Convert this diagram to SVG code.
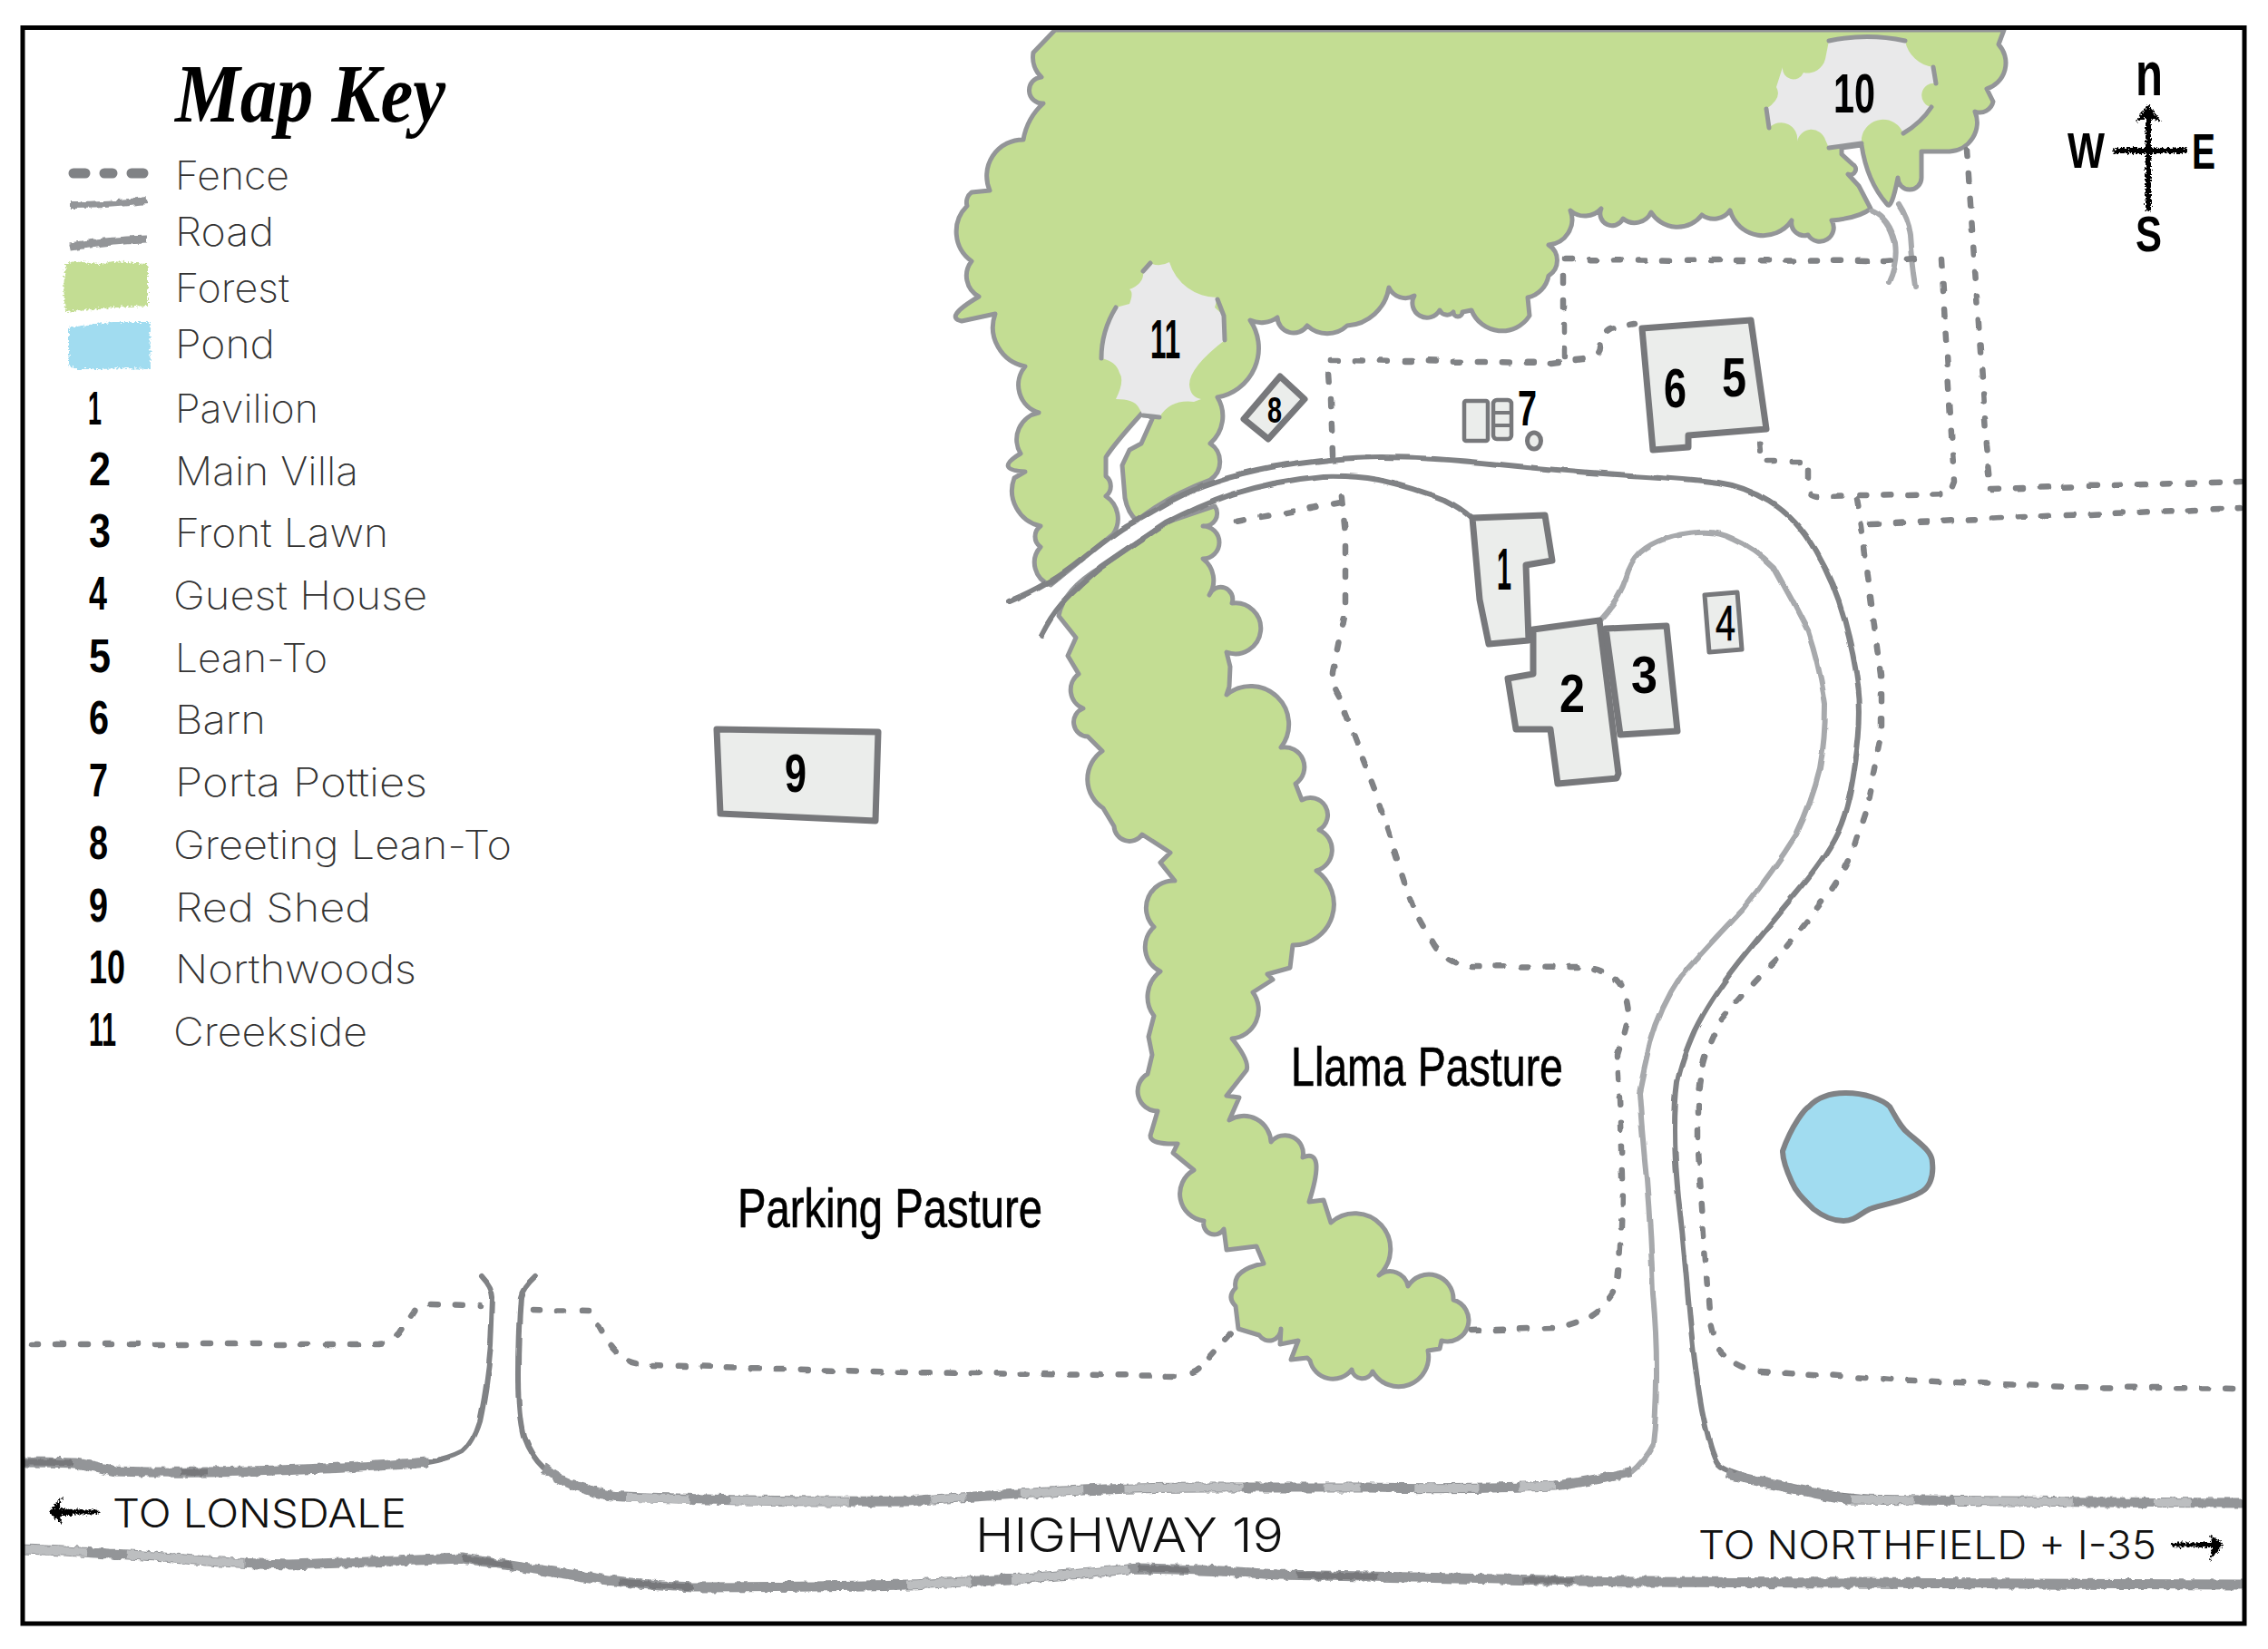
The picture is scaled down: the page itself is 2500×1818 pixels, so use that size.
<svg xmlns="http://www.w3.org/2000/svg" width="2500" height="1818" viewBox="0 0 2500 1818">
<style>
.forest{fill:#c3dd93;stroke:#939598;stroke-width:5;stroke-linejoin:round;stroke-linecap:round}
.clear{fill:#e9e9ea;stroke:none}
.edge{fill:none;stroke:#939598;stroke-width:5;stroke-linecap:round}
.bld{fill:#ebedeb;stroke:#77787b;stroke-width:7;stroke-linejoin:round}
.road{fill:none;stroke:#808285;stroke-width:6;stroke-linecap:round;stroke-linejoin:round}
.roadl{fill:none;stroke:#a7a9ac;stroke-width:6;stroke-linecap:round}
.hw{fill:none;stroke:#939598;stroke-width:11;stroke-linecap:butt}
.hwl{fill:none;stroke:#bcbec0;stroke-width:9;stroke-dasharray:70 45 130 90 40 60}
.hwd{fill:none;stroke:#77787b;stroke-width:7;stroke-dasharray:55 120 90 160}
.fence{fill:none;stroke:#808285;stroke-width:6.500;stroke-linecap:round;stroke-linejoin:round;stroke-dasharray:8 19}
.key{font-family:"Inter","Lato","Liberation Sans",sans-serif;font-weight:200;font-size:43px;fill:#333}
.hand{font-family:"Liberation Sans Narrow","Liberation Sans",sans-serif;font-weight:700;fill:#000}
.thin{font-weight:400;stroke:#000;stroke-width:.7}
.label{font-family:"Inter","Liberation Sans",sans-serif;font-weight:300;fill:#111}
.ink{fill:none;stroke:#000;stroke-linecap:round}
</style>
<defs>
<filter id="wob" filterUnits="userSpaceOnUse" x="0" y="0" width="2500" height="1818" color-interpolation-filters="sRGB"><feTurbulence type="fractalNoise" baseFrequency="0.03" numOctaves="2" seed="4"/><feDisplacementMap in="SourceGraphic" scale="5" xChannelSelector="R" yChannelSelector="G"/></filter>
<filter id="rough" filterUnits="userSpaceOnUse" x="0" y="0" width="2500" height="1818" color-interpolation-filters="sRGB"><feTurbulence type="fractalNoise" baseFrequency="0.12" numOctaves="2" seed="7"/><feDisplacementMap in="SourceGraphic" scale="6" xChannelSelector="R" yChannelSelector="G"/></filter>
<filter id="brush" filterUnits="userSpaceOnUse" x="0" y="0" width="2500" height="1818" color-interpolation-filters="sRGB"><feTurbulence type="fractalNoise" baseFrequency="0.45" numOctaves="2" seed="9"/><feDisplacementMap in="SourceGraphic" scale="7" xChannelSelector="R" yChannelSelector="G"/></filter>
</defs>
<rect width="2500" height="1818" fill="#fff"/>

<g id="forest">
<path id="forest-north" class="forest" d="M1163,33 L1139,58 A30,30 0 0 0 1148,85 A14,14 0 0 0 1150,114 A70,70 0 0 0 1128,154 A40,40 0 0 0 1091,210 L1071,212 A14,14 0 0 0 1066,227 A40,40 0 0 0 1071,288 A26,26 0 0 0 1079,327 Q1040,350 1060,354 L1097,346 A44,44 0 0 0 1130,404 A32,32 0 0 0 1145,455 A30,30 0 0 0 1125,500 Q1095,518 1130,520 L1118,527 A40,40 0 0 0 1147,580 A14,14 0 0 0 1147,603 A26,26 0 0 0 1158,645 L1227,589 A30,30 0 0 0 1219,547 A14,14 0 0 0 1219,525 L1219,504 Q1228,490 1253,462 L1262,452 L1270,462 L1258,489 L1245,496 L1237,513 L1240,549 Q1243,565 1253,574 Q1290,545 1334,529 A24,24 0 0 0 1334,489 A40,40 0 0 0 1342,438 A55,55 0 0 0 1378,353 A30,30 0 0 0 1408,350 A18,18 0 0 0 1441,359 A32,32 0 0 0 1485,359 A50,50 0 0 0 1531,317 A20,20 0 0 0 1559,326 A16,16 0 0 0 1587,342 A9,9 0 0 0 1602,344 A5,5 0 0 0 1612,344 L1622,342 A36,36 0 0 0 1686,348 L1684,328 A30,30 0 0 0 1707,304 A20,20 0 0 0 1707,270 A28,28 0 0 0 1731,232 A24,24 0 0 0 1765,230 A13,13 0 0 0 1789,241 A20,20 0 0 0 1820,234 A34,34 0 0 0 1876,237 A22,22 0 0 0 1907,232 A38,38 0 0 0 1975,243 A14,14 0 0 0 1993,259 A15,15 0 0 0 2019,243 Q2050,240 2062,230 L2049,205 L2037,192 A6,6 0 0 0 2042,181 L2030,170 L2030,163 L2052,160 Q2058,200 2080,225 Q2085,232 2092,196 A13,13 0 0 0 2118,196 L2118,167 L2149,167 A32,32 0 0 0 2177,123 A15,15 0 0 0 2197,112 L2190,98 A30,30 0 0 0 2203,49 L2209,33 Z"/>
<path id="forest-strip" class="forest" d="M1339,558 A14,14 0 0 1 1326,580 A18,18 0 0 1 1326,616 A30,30 0 0 1 1333,656 A13,13 0 0 1 1358,665 A28,28 0 1 1 1352,719 L1356,735 L1355,757 L1352,766 A42,42 0 0 1 1412,824 A22,22 0 0 1 1428,864 L1435,882 A19,19 0 0 1 1454,915 A24,24 0 0 1 1451,960 A45,45 0 0 1 1425,1042 L1422,1067 L1397,1074 L1403,1080 L1381,1094 A32,32 0 0 1 1358,1145 Q1378,1170 1374,1180 L1352,1208 L1366,1210 L1355,1235 A30,30 0 0 1 1401,1259 A20,20 0 0 1 1436,1276 Q1462,1265 1443,1325 L1459,1323 L1467,1348 A38,38 0 0 1 1520,1406 A20,20 0 0 1 1552,1418 A27,27 0 0 1 1602,1433 A23,23 0 0 1 1589,1478 L1587,1487 L1574,1489 A33,33 0 0 1 1513,1512 A12,12 0 0 1 1490,1510 A26,26 0 0 1 1444,1500 L1441,1497 L1423,1499 L1431,1478 L1411,1482 L1412,1465 A13,13 0 0 1 1388,1472 L1365,1465 L1362,1440 Q1352,1430 1362,1420 Q1358,1400 1393,1393 L1385,1374 L1352,1378 L1349,1355 A12,12 0 0 1 1327,1346 A30,30 0 0 1 1316,1290 L1293,1271 L1298,1261 Q1268,1262 1268,1252 L1276,1225 A22,22 0 0 1 1265,1184 L1270,1163 L1266,1143 L1272,1120 A35,35 0 0 1 1279,1071 A30,30 0 0 1 1272,1022 A30,30 0 0 1 1295,971 L1279,951 L1290,940 L1259,920 A17,17 0 0 1 1228,911 L1216,891 A38,38 0 0 1 1215,828 L1199,812 A16,16 0 0 1 1194,781 A22,22 0 0 1 1189,743 L1177,723 L1186,703 L1167,679 Q1172,650 1214,625 L1286,576 Z"/>
</g>

<g id="node-10">
<path class="clear" d="M2016,45 Q2058,36 2100,45 A36,36 0 0 0 2131,74 L2134,92 A13,13 0 0 0 2129,118 Q2118,135 2098,147 A24,24 0 0 0 2052,152 L2052,158 L2016,163 L2012,154 A16,16 0 0 0 1981,156 A18,18 0 0 0 1950,141 L1947,120 Q1965,108 1958,96 L1965,74 A12,12 0 0 0 1988,80 A20,20 0 0 0 2012,65 L2016,45 Z"/>
<path class="edge" d="M2016,45 Q2058,36 2100,45 M2131,74 L2134,92 M2129,118 Q2118,135 2098,147 M2052,158 L2016,163 M1950,141 L1947,120"/>
<text class="hand" x="2021" y="124" font-size="62" textLength="46" lengthAdjust="spacingAndGlyphs">10</text>
</g>
<g id="node-11">
<path class="clear" d="M1268,290 Q1278,295 1289,289 A55,55 0 0 0 1342,328 L1339,339 L1349,348 L1350,375 Q1311,405 1311,424 Q1312,438 1324,440 L1316,443 Q1290,440 1278,460 L1260,458 L1255,449 Q1250,440 1230,440 Q1240,420 1234,411 Q1230,398 1214,395 Q1214,365 1230,339 L1245,335 Q1250,322 1245,319 Q1262,312 1260,299 Z"/>
<path class="edge" d="M1214,395 Q1214,365 1230,339 M1260,458 L1278,460 M1342,330 L1349,348 L1350,375 M1260,299 L1268,290"/>
<text class="hand" x="1268" y="395" font-size="62" textLength="33" lengthAdjust="spacingAndGlyphs">11</text>
</g>

<g id="connectors">
<g id="roads">
<g filter="url(#wob)">
<path class="road" d="M1112,664 Q1158,645 1192,617 Q1227,589 1240,581 Q1253,574 1293,551 Q1334,529 1401,516 Q1469,504 1523,504 Q1577,504 1653,512 Q1730,520 1797,524 Q1865,528 1894,532 Q1923,536 1951,553 Q1980,571 2001,607 Q2022,643 2033,683 Q2044,723 2048,756 Q2053,790 2045,841 Q2038,893 2025,919 Q2012,946 1980,984 Q1948,1022 1916,1062 Q1884,1103 1868,1136 Q1853,1170 1849,1192 Q1846,1214 1846,1246 Q1846,1278 1850,1320 Q1855,1363 1861,1433 Q1867,1504 1876,1554 Q1886,1604 1894,1614 Q1903,1625 1970,1639 Q2037,1653 2120,1655"/>
<path class="road" d="M1148,700 Q1158,680 1171,665 Q1190,645 1214,625 Q1250,600 1286,576 Q1320,558 1357,545 Q1405,530 1459,525 Q1490,524 1520,529 Q1560,538 1592,551 Q1610,560 1622,571"/>
<path class="roadl" d="M1763,684 Q1785,660 1792,638 Q1797,620 1808,609 Q1830,590 1872,587 Q1893,585 1910,594 Q1935,605 1955,625 Q1975,660 1993,696 Q2006,735 2012,777 Q2012,815 2006,848 Q1997,885 1980,920 Q1955,960 1923,1000 Q1885,1040 1853,1076 Q1830,1110 1819,1150 Q1812,1180 1807,1205 Q1810,1250 1815,1299 Q1820,1360 1822,1427 Q1826,1470 1826,1512 Q1826,1560 1822,1593 Q1812,1612 1798,1623"/>
<path class="road" d="M590,1407 Q576,1420 574,1430 Q571,1470 571,1517 Q571,1560 577,1583 Q585,1605 599,1618"/>
<path class="road" d="M531,1407 Q543,1420 543,1430 Q542,1460 541,1483 Q537,1530 529,1567 Q522,1590 510,1600 Q495,1608 472,1612"/>
<path class="roadl" d="M2062,232 Q2083,240 2089,268 Q2092,290 2082,312"/>
<path class="roadl" d="M2093,225 Q2103,240 2106,259 Q2108,290 2112,315"/>
</g>
<g filter="url(#rough)">
<path class="hw" d="M25,1612 Q55,1612 83,1613 Q105,1616 128,1622 Q180,1624 230,1623 Q285,1622 332,1620 Q410,1617 472,1612"/>
<path class="hw" d="M599,1618 Q620,1635 650,1643 Q670,1650 689,1650 Q840,1656 1000,1655 Q1070,1650 1138,1646 Q1230,1640 1327,1640 Q1420,1640 1510,1640 Q1610,1642 1714,1638 Q1760,1632 1798,1623"/>
<path class="hw" d="M1903,1625 Q1970,1641 2037,1653 Q2250,1656 2472,1657"/>
<path class="hw" d="M25,1708 Q75,1710 121,1713 Q155,1714 191,1718 Q255,1724 319,1725 Q415,1722 510,1718 Q590,1730 670,1742 Q715,1748 765,1750 Q880,1750 1000,1747 Q1130,1742 1255,1729 Q1330,1730 1408,1736 Q1600,1740 1800,1744 Q2130,1745 2472,1747"/>
<path class="hwl" d="M690,1651 Q840,1656 1000,1655 Q1070,1650 1138,1646 Q1230,1640 1327,1640 Q1420,1640 1510,1640 Q1610,1642 1714,1638"/>
<path class="hwl" d="M2040,1653 Q2250,1656 2472,1657"/>
<path class="hwl" d="M25,1708 Q75,1710 121,1713 Q155,1714 191,1718 Q255,1724 319,1725 M1000,1747 Q1130,1742 1255,1729"/>
<path class="hwd" d="M25,1612 Q55,1612 83,1613 Q105,1616 128,1622 Q180,1624 230,1623"/>
<path class="hwd" d="M510,1718 Q590,1730 670,1742 Q715,1748 765,1750 M1255,1729 Q1330,1730 1408,1736 Q1600,1740 1800,1744"/>
</g>
</g>
<g id="fences" filter="url(#wob)">
<path class="fence" d="M35,1482 L415,1482 Q430,1482 440,1470 L456,1446 Q460,1438 472,1438 L529,1439"/>
<path class="fence" d="M587,1444 L650,1445 Q660,1460 670,1480 Q685,1505 717,1505 L1000,1513 L1296,1517 Q1315,1517 1321,1510 L1360,1467"/>
<path class="fence" d="M1622,1467 L1714,1464 Q1745,1458 1760,1446 Q1780,1430 1783,1414 Q1788,1360 1788,1299 Q1786,1230 1783,1163 Q1790,1140 1795,1116 Q1792,1085 1776,1076 Q1760,1066 1738,1066 L1617,1065 Q1590,1060 1578,1036 Q1562,1015 1553,987 L1515,870 L1476,768 Q1468,755 1469,741 L1483,670 L1483,589 L1478,538"/>
<path class="fence" d="M1478,554 L1346,578"/>
<path class="fence" d="M1469,502 L1467,440 L1464,397 L1472,397 L1709,400 L1755,395 Q1763,390 1763,384 Q1766,366 1775,362 L1802,357"/>
<path class="fence" d="M1724,393 L1724,286 L2078,288 L2123,284"/>
<path class="fence" d="M2140,286 L2154,531 L2149,544 L2006,547 Q1993,547 1993,540 L1993,509 L1942,509 L1940,487"/>
<path class="fence" d="M2168,165 L2190,491 L2194,531"/>
<path class="fence" d="M2195,539 L2470,531"/>
<path class="fence" d="M2062,577 L2470,560"/>
<path class="fence" d="M2047,551 L2052,580 L2073,745 L2073,812 L2057,893 L2044,933 Q2033,960 2018,982 L1961,1054 Q1925,1090 1897,1125 Q1880,1155 1875,1183 L1872,1205 L1872,1269 L1877,1346 L1884,1448 Q1888,1470 1894,1487 Q1910,1505 1927,1510 L2085,1521 L2276,1529 L2472,1531"/>
</g>
</g>

<g id="node-pond"><path d="M1965,1269 C1975,1240 1990,1222 1994,1220 C2005,1208 2020,1205 2035,1205 C2055,1205 2075,1212 2083,1220 C2090,1232 2095,1243 2104,1250 C2118,1262 2130,1270 2130,1282 C2132,1300 2125,1310 2118,1314 C2100,1325 2080,1326 2061,1333 C2050,1338 2045,1346 2032,1346 C2020,1346 2008,1340 1999,1333 C1988,1322 1980,1315 1975,1303 C1970,1292 1965,1280 1965,1269 Z" fill="#a1dcf0" stroke="#808285" stroke-width="6"/></g>

<g id="node-1"><path class="bld" d="M1623,571 L1703,568 L1711,618 L1682,623 L1685,706 L1641,710 L1631,661 Z"/><text class="hand" x="1650" y="650" font-size="64" textLength="16" lengthAdjust="spacingAndGlyphs">1</text></g>
<g id="node-2"><path class="bld" d="M1690,694 L1763,684 L1784,853 L1782,858 L1717,864 L1709,804 L1671,804 L1662,748 L1690,743 Z"/><text class="hand" x="1719" y="785" font-size="60" textLength="28" lengthAdjust="spacingAndGlyphs">2</text></g>
<g id="node-3"><path class="bld" d="M1770,693 L1837,690 L1849,806 L1786,810 Z"/><text class="hand" x="1798" y="764" font-size="58" textLength="29" lengthAdjust="spacingAndGlyphs">3</text></g>
<g id="node-4"><path class="bld" style="stroke-width:5" d="M1879,656 L1915,653 L1920,716 L1884,719 Z"/><text class="hand thin" x="1891" y="706" font-size="56" textLength="22" lengthAdjust="spacingAndGlyphs">4</text></g>
<g id="node-5-6"><path class="bld" d="M1810,362 L1930,353 L1947,473 L1861,480 L1861,493 L1822,496 Z"/><text class="hand" x="1834" y="449" font-size="62" textLength="25" lengthAdjust="spacingAndGlyphs">6</text><text class="hand" x="1898" y="437" font-size="62" textLength="27" lengthAdjust="spacingAndGlyphs">5</text></g>
<g id="node-7"><rect class="bld" style="stroke-width:4.5" x="1614" y="442" width="26" height="44" rx="2"/><rect class="bld" style="stroke-width:4.5" x="1646" y="441" width="20" height="43" rx="4"/><path d="M1646,455 H1666 M1646,469 H1666" fill="none" stroke="#77787b" stroke-width="4"/><ellipse cx="1691" cy="486" rx="7.5" ry="9" fill="#ebedeb" stroke="#77787b" stroke-width="5"/><text class="hand" x="1673" y="469" font-size="56" textLength="21" lengthAdjust="spacingAndGlyphs">7</text></g>
<g id="node-8"><path class="bld" d="M1411,415 L1438,440 L1398,484 L1371,462 Z"/><text class="hand" x="1397" y="466" font-size="40" textLength="16" lengthAdjust="spacingAndGlyphs">8</text></g>
<g id="node-9"><path class="bld" d="M790,804 L968,807 L965,905 L794,897 Z"/><text class="hand" x="865" y="873" font-size="60" textLength="24" lengthAdjust="spacingAndGlyphs">9</text></g>

<g id="key">
<rect x="25" y="30.500" width="2449" height="1759.500" fill="none" stroke="#000" stroke-width="5"/>
<text x="193" y="134" font-family="Liberation Serif,serif" font-style="italic" font-weight="700" font-size="92" textLength="298" lengthAdjust="spacingAndGlyphs" fill="#000">Map Key</text>
<path d="M81,191 H94 M115,191 H124 M145,191 H158" stroke="#808285" stroke-width="11" stroke-linecap="round" fill="none"/>
<path d="M77,226 Q120,226 162,221" stroke="#939598" stroke-width="8" fill="none" filter="url(#rough)"/>
<path d="M77,272 Q120,265 162,264" stroke="#939598" stroke-width="9" fill="none" filter="url(#rough)"/>
<path d="M72,293 L80,288 L110,291 L125,288 L163,291 L163,337 L125,339 L90,342 L72,344 L70,318 Z" fill="#c3dd93" filter="url(#brush)"/>
<path d="M76,361 L105,357 L125,355 L165,355 L166,407 L140,406 L110,407 L85,407 L76,403 Z" fill="#a1dcf0" filter="url(#brush)"/>
<g class="key">
<text x="193" y="209" textLength="126" lengthAdjust="spacingAndGlyphs">Fence</text>
<text x="193" y="271" textLength="109" lengthAdjust="spacingAndGlyphs">Road</text>
<text x="193" y="333" textLength="126" lengthAdjust="spacingAndGlyphs">Forest</text>
<text x="193" y="395" textLength="110" lengthAdjust="spacingAndGlyphs">Pond</text>
<text x="193" y="466" textLength="158" lengthAdjust="spacingAndGlyphs">Pavilion</text>
<text x="193" y="535" textLength="202" lengthAdjust="spacingAndGlyphs">Main Villa</text>
<text x="193" y="603" textLength="235" lengthAdjust="spacingAndGlyphs">Front Lawn</text>
<text x="191" y="672" textLength="280" lengthAdjust="spacingAndGlyphs">Guest House</text>
<text x="193" y="741" textLength="168" lengthAdjust="spacingAndGlyphs">Lean-To</text>
<text x="193" y="809" textLength="100" lengthAdjust="spacingAndGlyphs">Barn</text>
<text x="193" y="878" textLength="278" lengthAdjust="spacingAndGlyphs">Porta Potties</text>
<text x="191" y="947" textLength="373" lengthAdjust="spacingAndGlyphs">Greeting Lean-To</text>
<text x="193" y="1016" textLength="216" lengthAdjust="spacingAndGlyphs">Red Shed</text>
<text x="193" y="1084" textLength="266" lengthAdjust="spacingAndGlyphs">Northwoods</text>
<text x="191" y="1153" textLength="214" lengthAdjust="spacingAndGlyphs">Creekside</text>
</g>
<g class="hand" font-size="52">
<text x="97" y="468" textLength="15" lengthAdjust="spacingAndGlyphs">1</text>
<text x="98" y="535" textLength="24" lengthAdjust="spacingAndGlyphs">2</text>
<text x="98" y="603" textLength="24" lengthAdjust="spacingAndGlyphs">3</text>
<text x="98" y="672" textLength="20" lengthAdjust="spacingAndGlyphs">4</text>
<text x="98" y="741" textLength="24" lengthAdjust="spacingAndGlyphs">5</text>
<text x="98" y="809" textLength="22" lengthAdjust="spacingAndGlyphs">6</text>
<text x="98" y="878" textLength="21" lengthAdjust="spacingAndGlyphs">7</text>
<text x="98" y="947" textLength="21" lengthAdjust="spacingAndGlyphs">8</text>
<text x="98" y="1016" textLength="21" lengthAdjust="spacingAndGlyphs">9</text>
<text x="98" y="1084" textLength="40" lengthAdjust="spacingAndGlyphs">10</text>
<text x="98" y="1153" textLength="30" lengthAdjust="spacingAndGlyphs">11</text>
</g>
</g>

<g id="labels">
<text class="hand thin" x="1423" y="1197" font-size="62" textLength="300" lengthAdjust="spacingAndGlyphs">Llama Pasture</text>
<text class="hand thin" x="813" y="1353" font-size="62" textLength="336" lengthAdjust="spacingAndGlyphs">Parking Pasture</text>
<text class="label" x="1075" y="1711" font-size="52" textLength="340" lengthAdjust="spacingAndGlyphs">HIGHWAY 19</text>
<text class="label" x="124" y="1684" font-size="43" textLength="324" lengthAdjust="spacingAndGlyphs">TO LONSDALE</text>
<text class="label" x="1872" y="1719" font-size="43" textLength="505" lengthAdjust="spacingAndGlyphs">TO NORTHFIELD + I-35</text>
<g filter="url(#brush)">
<path class="ink" d="M58,1667 H106" stroke-width="5"/>
<path d="M54,1667 L68,1650 L66,1663 L80,1664 L80,1671 L66,1671 L68,1680 Z" fill="#000"/>
<path class="ink" d="M2396,1703 H2444" stroke-width="5"/>
<path d="M2451,1703 L2436,1691 L2438,1700 L2424,1700 L2424,1706 L2438,1706 L2436,1721 Z" fill="#000"/>
</g>
</g>

<g id="compass">
<g filter="url(#brush)">
<path class="ink" d="M2368,128 V230" stroke-width="6"/>
<path class="ink" d="M2332,166 H2408" stroke-width="6"/>
<path d="M2368,115 L2382,134 L2372,131 L2364,131 L2354,134 Z" fill="#000"/>
</g>
<g class="hand">
<text x="2354" y="105" font-size="68" textLength="30" lengthAdjust="spacingAndGlyphs">n</text>
<text x="2279" y="185" font-size="56" textLength="41" lengthAdjust="spacingAndGlyphs">W</text>
<text x="2416" y="186" font-size="56" textLength="26" lengthAdjust="spacingAndGlyphs">E</text>
<text x="2354" y="277" font-size="56" textLength="29" lengthAdjust="spacingAndGlyphs">S</text>
</g>
</g>
</svg>
